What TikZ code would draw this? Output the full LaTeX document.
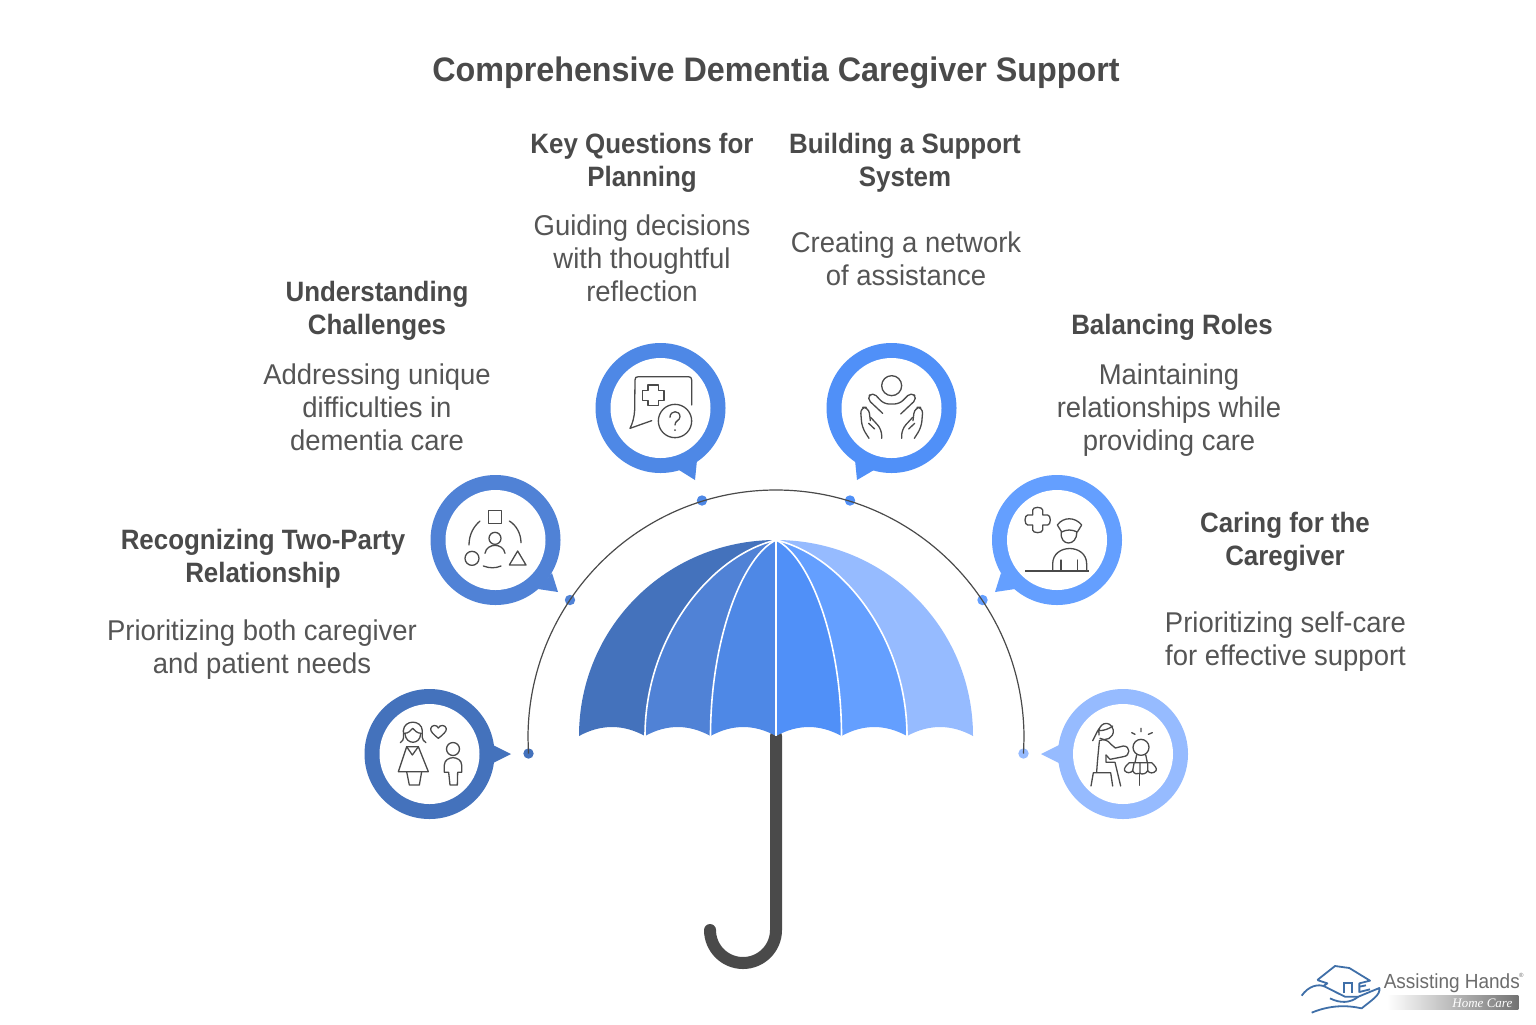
\documentclass[tikz,border=0pt]{standalone}
\usepackage{fontspec}
\setmainfont{Liberation Sans}
\newfontfamily\logoserif{Liberation Serif}
\newfontfamily\titlefont[FakeStretch=0.95]{Liberation Sans Bold}
\newfontfamily\headfont[FakeStretch=0.925]{Liberation Sans Bold}
\newfontfamily\copyfont[FakeStretch=0.96]{Liberation Sans}
\newfontfamily\logofont[FakeStretch=0.93]{Liberation Sans}
\usetikzlibrary{calc}
\definecolor{ca}{HTML}{4472BC}
\definecolor{cb}{HTML}{5082D6}
\definecolor{cc}{HTML}{4E88E6}
\definecolor{cd}{HTML}{5090F8}
\definecolor{ce}{HTML}{649FFF}
\definecolor{cf}{HTML}{96BBFF}
\definecolor{ink}{HTML}{4A4A4A}
\definecolor{bodyink}{HTML}{555555}
\definecolor{logob}{HTML}{3F6FA8}
\tikzset{
  x=0.5pt,y=-0.5pt,
  titletext/.style={font=\titlefont\fontsize{17}{20}\selectfont,text=ink,inner sep=0},
  headtext/.style={font=\headfont\fontsize{14}{16.5}\selectfont,text=ink,align=center,inner sep=0},
  bodytext/.style={font=\copyfont\fontsize{14.3}{16.5}\selectfont,text=bodyink,align=center,inner sep=0},
  ringnode/.style={circle,fill=#1,minimum size=65pt,inner sep=0},
  holenode/.style={circle,fill=white,minimum size=50pt,inner sep=0},
  dotnode/.style={circle,fill=#1,minimum size=5.2pt,inner sep=0},
  icon/.style={draw=ink,line width=0.65pt,line cap=round,line join=round},
  divider/.style={draw=white,line width=0.8pt},
  inzoom/.style={shift={(#1)},xscale=1/3,yscale=1/3},
}
\newcommand{\panel}[3]{% colour, rib rx, rib rx
  \fill[#1] (776,540) .. controls ({776+0.5*#2},555.6) and ({776+#2},637.5) .. ({776+#2},736)
    .. controls ({776+#2+(#3-#2)/3},724) and ({776+#2+2*(#3-#2)/3},724) .. ({776+#3},736)
    .. controls ({776+#3},637.5) and ({776+0.5*#3},555.6) .. (776,540) -- cycle;}
\newcommand{\ribline}[1]{%
  \draw[divider] (776,540) .. controls ({776+0.5*#1},555.6) and ({776+#1},637.5) .. ({776+#1},736);}
\begin{document}
\begin{tikzpicture}
\useasboundingbox (0,0) rectangle (1536,1024);
\fill[white] (0,0) rectangle (1536,1024);

% title
\node[titletext] (title) at (776,72.5) {Comprehensive Dementia Caregiver Support};

% texts
\node[headtext] (h1) at (263,559) {Recognizing Two-Party\\Relationship};
\node[bodytext] (t1) at (262,650) {Prioritizing both caregiver\\and patient needs};
\node[headtext] (h2) at (377,311) {Understanding\\Challenges};
\node[bodytext] (t2) at (377,407.5) {Addressing unique\\difficulties in\\dementia care};
\node[headtext] (h3) at (642,162.5) {Key Questions for\\Planning};
\node[bodytext] (t3) at (642,258.5) {Guiding decisions\\with thoughtful\\reflection};
\node[headtext] (h4) at (905,162.5) {Building a Support\\System};
\node[bodytext] (t4) at (906,259) {Creating a network\\of assistance};
\node[headtext] (h5) at (1172,327.5) {Balancing Roles};
\node[bodytext] (t5) at (1169,410.5) {Maintaining\\relationships while\\providing care};
\node[headtext] (h6) at (1285,542) {Caring for the\\Caregiver};
\node[bodytext] (t6) at (1285.5,641.5) {Prioritizing self-care\\for effective support};

% handle
\draw[ink,line width=6pt,line cap=round] (776,736) -- (776,930) arc[start angle=0,end angle=180,radius=33];

% canopy
\fill[ca] (776,540) .. controls (667,540) and (579,627) .. (579,736)
  .. controls (601,724) and (623,724) .. (645,736)
  .. controls (645,637.5) and (710.5,555.6) .. (776,540) -- cycle;
\panel{cb}{-131}{-65.5}
\panel{cc}{-65.5}{0}
\panel{cd}{0}{65.5}
\panel{ce}{65.5}{131}
\fill[cf] (776,540) .. controls (885,540) and (973,627) .. (973,736)
  .. controls (951,724) and (929,724) .. (907,736)
  .. controls (907,637.5) and (841.5,555.6) .. (776,540) -- cycle;
\ribline{-131}\ribline{-65.5}\ribline{65.5}\ribline{131}
\draw[divider] (776,540) -- (776,736);

% dots and arc
\node[dotnode=ca] (d1) at (528.5,753.5) {};
\node[dotnode=cb] (d2) at (570,600) {};
\node[dotnode=cc] (d3) at (702,500.5) {};
\node[dotnode=cd] (d4) at (850,500.5) {};
\node[dotnode=ce] (d5) at (982.5,600) {};
\node[dotnode=cf] (d6) at (1023.5,753.5) {};
\draw[ink,line width=0.6pt] (d1.center) -- (528,738) arc[start angle=180,end angle=360,radius=248] -- (d6.center);

% speech bubbles
\fill[ca] (493,745) -- (511,754) -- (493,763) -- cycle;
\fill[cb] (552,573) -- (558,592) -- (538,589) -- cycle;
\fill[cc] (697,460) -- (695,480) -- (679,470) -- cycle;
\fill[cd] (855,460) -- (857,480) -- (874,470) -- cycle;
\fill[ce] (1001,573) -- (995,592) -- (1015,589) -- cycle;
\fill[cf] (1059,745) -- (1041,754) -- (1059,763) -- cycle;
\node[ringnode=ca] (b1) at (429.5,754) {};
\node[ringnode=cb] (b2) at (495.5,540) {};
\node[ringnode=cc] (b3) at (660.5,408) {};
\node[ringnode=cd] (b4) at (891.5,408) {};
\node[ringnode=ce] (b5) at (1057,540) {};
\node[ringnode=cf] (b6) at (1123,754) {};
\foreach \n in {b1,b2,b3,b4,b5,b6} \node[holenode] at (\n) {};

% icon 1 (zoom frame at 380,710)
\begin{scope}[inzoom={380,710}]
  \draw[icon] (61,98) .. controls (75,90) and (70,75) .. (70,62) .. controls (72,28) and (125,28) .. (127,62) .. controls (127,75) and (123,90) .. (138,98);
  \draw[icon] (73,70) .. controls (85,70) and (92,62) .. (98,55) .. controls (104,62) and (112,70) .. (124,70);
  \draw[icon] (75,72) .. controls (78,105) and (120,105) .. (122,72);
  \draw[icon] (80,110) -- (115,110) -- (145,185) -- (55,185) -- cycle;
  \draw[icon] (80,110) -- (97,135) -- (115,110);
  \draw[icon] (80,185) -- (88,225) -- (118,225) -- (125,185);
  \draw[icon] (175,85) .. controls (160,73) and (151,64) .. (152,56) .. controls (154,44) and (171,43) .. (175,54)
     .. controls (179,43) and (197,44) .. (199,56) .. controls (200,64) and (190,73) .. (175,85) -- cycle;
  \draw[icon] (219,117) circle[radius=19.5];
  \draw[icon] (206,187) -- (210,225) -- (232,225) -- (233,187) -- (245,187) -- (245,165) .. controls (245,150) and (230,143) .. (219,143)
     .. controls (208,143) and (193,150) .. (193,165) -- (193,187) -- cycle;
\end{scope}

% icon 2 (zoom frame at 350,460)
\begin{scope}[inzoom={350,460}]
  \draw[icon] (415,152) rectangle (455,190);
  \draw[icon] (390,183) .. controls (370,200) and (357,225) .. (357,255);
  \draw[icon] (478,183) .. controls (498,195) and (513,220) .. (513,248);
  \draw[icon] (400,318) .. controls (418,325) and (437,325) .. (453,318);
  \draw[icon] (435,235) circle[radius=18];
  \draw[icon] (405,280) .. controls (410,248) and (460,248) .. (465,280);
  \draw[icon] (366,295) circle[radius=21];
  \draw[icon] (503,273) -- (478,315) -- (528,315) -- cycle;
\end{scope}

% icon 3 and 4 (zoom frame at 580,330)
\begin{scope}[inzoom={580,330}]
  \draw[icon] (335,225) -- (335,150) .. controls (335,143) and (332,140) .. (325,140) -- (175,140) .. controls (168,140) and (165,143) .. (165,150) -- (164,240) .. controls (163,260) and (158,280) .. (150,295) -- (215,272);
  \draw[icon] (204,165) -- (236,165) -- (236,181) -- (252,181) -- (252,211) -- (236,211) -- (236,227) -- (204,227) -- (204,211) -- (188,211) -- (188,181) -- (204,181) -- cycle;
  \draw[icon] (285,273) circle[radius=50];
  \draw[icon] (270,262) .. controls (270,240) and (300,240) .. (300,260) .. controls (300,272) and (284,272) .. (285,285);
  \fill[ink] (285,300) circle[radius=3];
  % icon 4
  \draw[icon] (935,167) circle[radius=30];
  \draw[icon,rounded corners=2.5pt] (908,250) -- (860,205) -- (878,186) -- (912,222) -- (958,222) -- (994,186) -- (1012,205) -- (962,252);
  \draw[icon,rounded corners=3pt] (867,325) -- (846,292) -- (841,232) -- (866,232) -- (871,272);
  \draw[icon,rounded corners=3pt] (866,280) -- (884,297) (872,262) -- (905,298) -- (905,325);
  \draw[icon,rounded corners=3pt] (1003,325) -- (1024,292) -- (1029,232) -- (1004,232) -- (999,272);
  \draw[icon,rounded corners=3pt] (1004,280) -- (986,297) (998,262) -- (965,298) -- (965,325);
\end{scope}

% icon 5 (zoom frame at 970,460)
\begin{scope}[inzoom={970,460}]
  \draw[icon] (188,150) arc[start angle=180,end angle=360,x radius=15,y radius=8] -- (218,165) -- (233,165) arc[start angle=270,end angle=450,x radius=8,y radius=15] -- (218,195) -- (218,210) arc[start angle=0,end angle=180,x radius=15,y radius=8] -- (188,195) -- (173,195) arc[start angle=90,end angle=270,x radius=8,y radius=15] -- (188,165) -- cycle;
  \draw[icon] (262,195) .. controls (280,170) and (315,170) .. (335,195) -- (322,216) .. controls (305,208) and (290,208) .. (275,216) -- cycle;
  \draw[icon] (274,216) .. controls (268,260) and (322,260) .. (320,216);
  \draw[icon] (248,332) -- (248,312) .. controls (248,250) and (350,250) .. (350,312) -- (350,332);
  \draw[ink,line width=0.9pt] (165,333) -- (357,333);
  \draw[icon] (273,300) -- (273,332) (322,300) -- (322,332);
\end{scope}

% icon 6 (zoom frame at 1080,710)
\begin{scope}[inzoom={1080,710}]
  \draw[icon] (57,75) .. controls (50,40) and (90,25) .. (100,60) .. controls (102,85) and (75,95) .. (60,85);
  \draw[icon] (38,92) .. controls (45,80) and (50,65) .. (58,55) (58,62) .. controls (72,62) and (88,56) .. (98,48);
  \draw[icon] (58,95) .. controls (55,125) and (52,155) .. (50,185);
  \draw[icon] (33,228) -- (40,188) -- (92,188) -- (98,228);
  \draw[icon] (58,92) .. controls (72,85) and (85,92) .. (92,102) -- (106,114) -- (130,108) .. controls (152,108) and (152,138) .. (130,140) -- (90,148) -- (78,135);
  \draw[icon] (78,135) -- (78,157) -- (105,157) -- (122,228);
  \draw[icon] (183,112) circle[radius=24];
  \draw[icon] (155,68) -- (165,73) (183,55) -- (183,65) (217,68) -- (205,73);
  \draw[icon] (170,134) -- (165,158) (197,134) -- (202,158);
  \draw[icon] (148,158) -- (215,158) .. controls (225,168) and (232,175) .. (228,182) .. controls (220,192) and (208,190) .. (203,182)
     .. controls (198,192) and (186,194) .. (180,190) .. controls (172,194) and (162,192) .. (158,182)
     .. controls (152,190) and (140,190) .. (134,182) .. controls (130,175) and (140,165) .. (148,158) -- cycle;
  \draw[icon] (162,160) -- (158,182) (203,160) -- (203,182) (180,160) -- (180,190);
  \draw[icon] (178,192) -- (178,226);
\end{scope}

% logo (zoom frame at 1290,950)
\begin{scope}[inzoom={1290,950}]
  \shade[left color=white,right color=gray!90!black] (290,137) rectangle (685,178);
  \draw[logob,line width=0.9pt,line join=round] (82,90) -- (135,48) -- (178,54) -- (240,92) -- (208,100) -- (208,128) (82,90) -- (112,100) -- (100,108);
  \draw[logob,line width=0.9pt] (163,130) -- (163,98) -- (186,98) -- (186,130);
  \draw[logob,line width=0.9pt] (208,110) -- (228,106) (208,126) -- (240,118);
  \draw[logob,line width=0.9pt,line join=round] (35,137) .. controls (55,108) and (85,100) .. (105,110) .. controls (125,120) and (140,128) .. (165,140) -- (205,140) -- (268,114) .. controls (272,135) and (245,150) .. (215,175) .. controls (170,165) and (120,165) .. (65,188);
  \draw[logob,line width=0.9pt] (120,145) .. controls (150,160) and (180,160) .. (205,140);
  \node[font=\logofont\fontsize{10.2}{12}\selectfont,text=gray!85!black,inner sep=0,anchor=west] (logoname) at (280,100) {Assisting Hands};
  \node[font=\fontsize{3}{4}\selectfont,text=gray!85!black,inner sep=0] (logoreg) at (694,77) {®};
  \node[font=\logoserif\itshape\fontsize{6.5}{8}\selectfont,text=white,inner sep=0,anchor=east] (logosub) at (668,161) {Home Care};
\end{scope}
\end{tikzpicture}
\end{document}
